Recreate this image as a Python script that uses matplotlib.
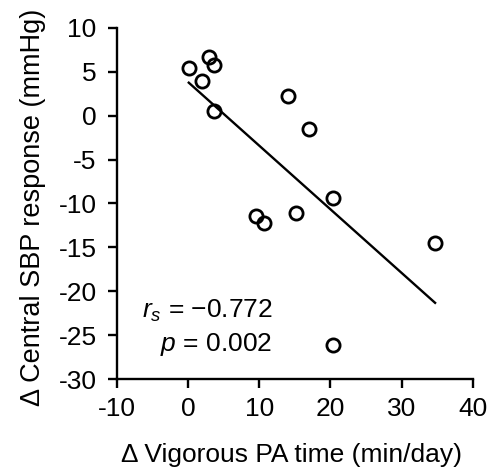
import numpy as np
import matplotlib
matplotlib.use("Agg")
import matplotlib.pyplot as plt

plt.rcParams['font.family'] = ['Liberation Sans', 'DejaVu Sans']
plt.rcParams['mathtext.fontset'] = 'custom'
plt.rcParams['mathtext.rm'] = 'Liberation Sans'
plt.rcParams['mathtext.it'] = 'Liberation Sans:italic'

# Change in vigorous PA time (min/day) and change in central SBP response (mmHg)
vig_pa_change = [0.1, 2.0, 2.9, 3.7, 3.6, 14.0, 17.0, 9.5, 10.6, 15.1, 20.3, 34.7, 20.3]
sbp_change = [5.4, 3.9, 6.7, 5.8, 0.5, 2.2, -1.5, -11.4, -12.2, -11.1, -9.4, -14.5, -26.1]

x_ticks = [-10, 0, 10, 20, 30, 40]
y_ticks = [10, 5, 0, -5, -10, -15, -20, -25, -30]

x = np.array(vig_pa_change)
y = np.array(sbp_change)

fig = plt.figure(figsize=(4.91, 4.71), dpi=100)
ax = fig.add_axes([0.238, 0.195, 0.725, 0.746])

# Least-squares trend line over the observed range
slope, intercept = np.polyfit(x, y, 1)
xl = np.array([x.min(), x.max()])
ax.plot(xl, slope * xl + intercept, color='black', lw=1.7, zorder=2)

ax.plot(x, y, linestyle='none', marker='o', markersize=9.5,
        markerfacecolor='none', markeredgecolor='black', markeredgewidth=2.0, zorder=3)

ax.set_xlim(-10, 40)
ax.set_ylim(-30, 10)
ax.set_xticks(x_ticks)
ax.set_yticks(y_ticks)
ax.set_xticklabels([str(t) for t in x_ticks])
ax.set_yticklabels([str(t) for t in y_ticks])

for side in ('top', 'right'):
    ax.spines[side].set_visible(False)
for side in ('left', 'bottom'):
    ax.spines[side].set_linewidth(1.7)
ax.tick_params(axis='both', direction='out', length=6.5, width=1.7,
               labelsize=19, colors='black')
ax.tick_params(axis='x', pad=6)
ax.tick_params(axis='y', pad=8)

ax.set_xlabel('Δ Vigorous PA time (min/day)', fontsize=19, va='baseline')
ax.xaxis.set_label_coords(0.49, -0.236)
ax.set_ylabel('Δ Central SBP response (mmHg)', fontsize=19.5, va='center')
ax.yaxis.set_label_coords(-0.236, 0.49)

ax.text(11.8, -23.0, r'$r_s$ = −0.772', fontsize=19, ha='right', va='baseline')
ax.text(11.8, -26.8, r'$p$ = 0.002', fontsize=19, ha='right', va='baseline')

fig.savefig('out.png', dpi=100)
